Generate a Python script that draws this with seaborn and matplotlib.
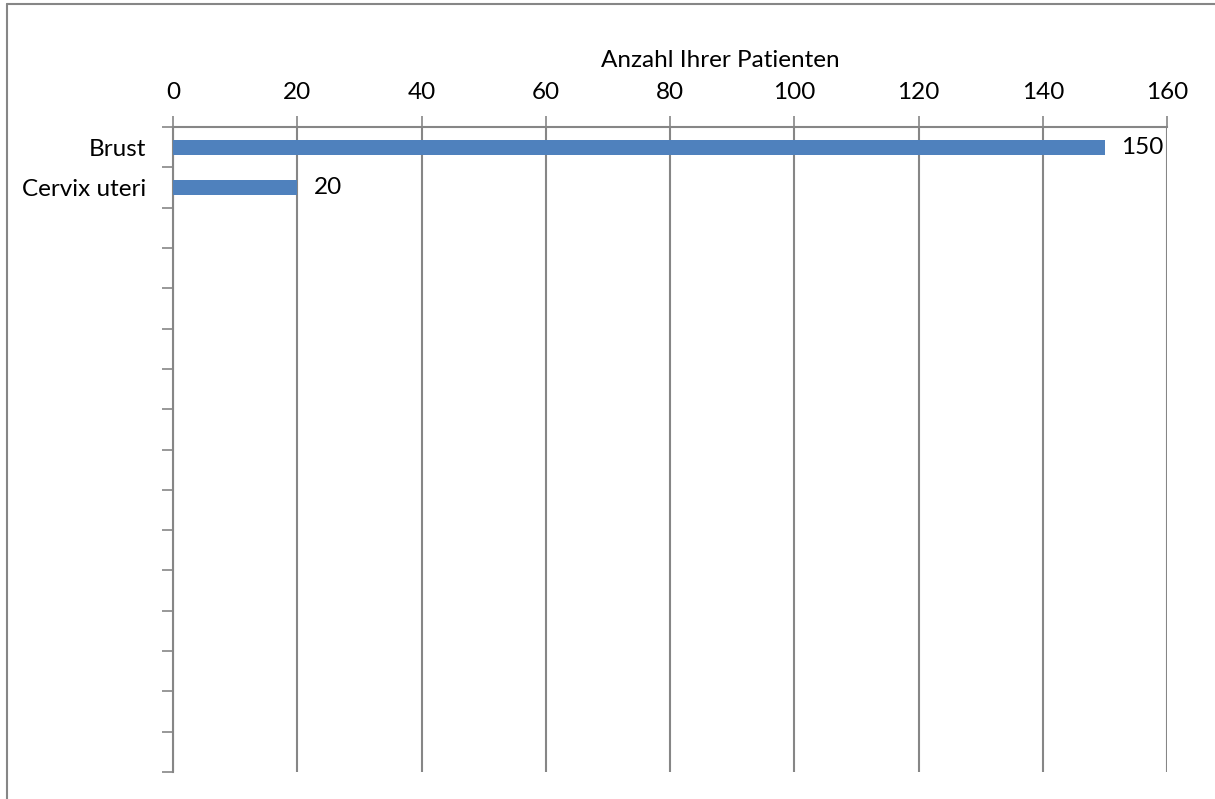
import numpy as np
import pandas as pd
import matplotlib
matplotlib.use("Agg")
import matplotlib.pyplot as plt
import seaborn as sns
from matplotlib.lines import Line2D

# data
bar_names = ["Brust", "Cervix uteri"]
bar_values = [150, 20]
# category slots on the y axis (14 empty slots after the two filled ones)
categories = bar_names + [f"_leer{i}" for i in range(14)]
tick_labels = bar_names + [""] * 14
x_ticks = [0, 20, 40, 60, 80, 100, 120, 140, 160]

df = pd.DataFrame({"Kategorie": bar_names, "Anzahl": bar_values})

sns.set_style("white")
plt.rcParams["font.family"] = ["Lato", "DejaVu Sans"]
plt.rcParams["text.color"] = "black"
plt.rcParams["xtick.labelcolor"] = "black"
plt.rcParams["ytick.labelcolor"] = "black"
plt.rcParams["axes.labelcolor"] = "black"
fs = 17.5

W, H = 1215, 799
fig = plt.figure(figsize=(W / 100, H / 100), dpi=100)
ax = fig.add_axes([173 / W, 1 - 772 / H, (1167 - 173) / W, (772 - 127) / H])

sns.barplot(data=df, x="Anzahl", y="Kategorie", order=categories, orient="h",
            color="#4F81BD", width=0.37, saturation=1, linewidth=0, ax=ax, zorder=3)

ax.set_xlim(0, 160)
ax.set_ylim(len(categories) - 0.5, -0.5)
ax.set_xticks(x_ticks)
ax.xaxis.tick_top()
ax.xaxis.set_label_position("top")
ax.set_xlabel("Anzahl Ihrer Patienten", fontsize=fs)
ax.xaxis.set_label_coords((720 - 173) / (1167 - 173), 1 + 60 / (772 - 127))
ax.set_ylabel("")
ax.tick_params(axis="x", which="major", top=True, direction="out", length=8,
               width=1.2, color="#868686", labelsize=fs, pad=9)
ax.grid(axis="x", color="#868686", linewidth=1.5, zorder=0)

ax.set_yticks(range(len(categories)))
ax.set_yticklabels(tick_labels, fontsize=fs)
ax.tick_params(axis="y", which="major", left=False, length=0, pad=19)
ax.set_yticks(np.arange(-0.5, len(categories)), minor=True)
ax.tick_params(axis="y", which="minor", left=True, direction="out", length=8,
               width=1.2, color="#868686")

for s in ["right", "bottom"]:
    ax.spines[s].set_visible(False)
for s in ["top", "left"]:
    ax.spines[s].set_color("#868686")
    ax.spines[s].set_linewidth(1.5)

ax.bar_label(ax.containers[0], fmt="%.0f", padding=12, fontsize=fs, color="black")

# outer chart border (left and top only visible)
fig.add_artist(Line2D([7 / W, 7 / W], [0, 1 - 4 / H], color="#868686", lw=1.5))
fig.add_artist(Line2D([7 / W, 1], [1 - 4 / H, 1 - 4 / H], color="#868686", lw=1.5))

fig.savefig("out.png", dpi=100)
